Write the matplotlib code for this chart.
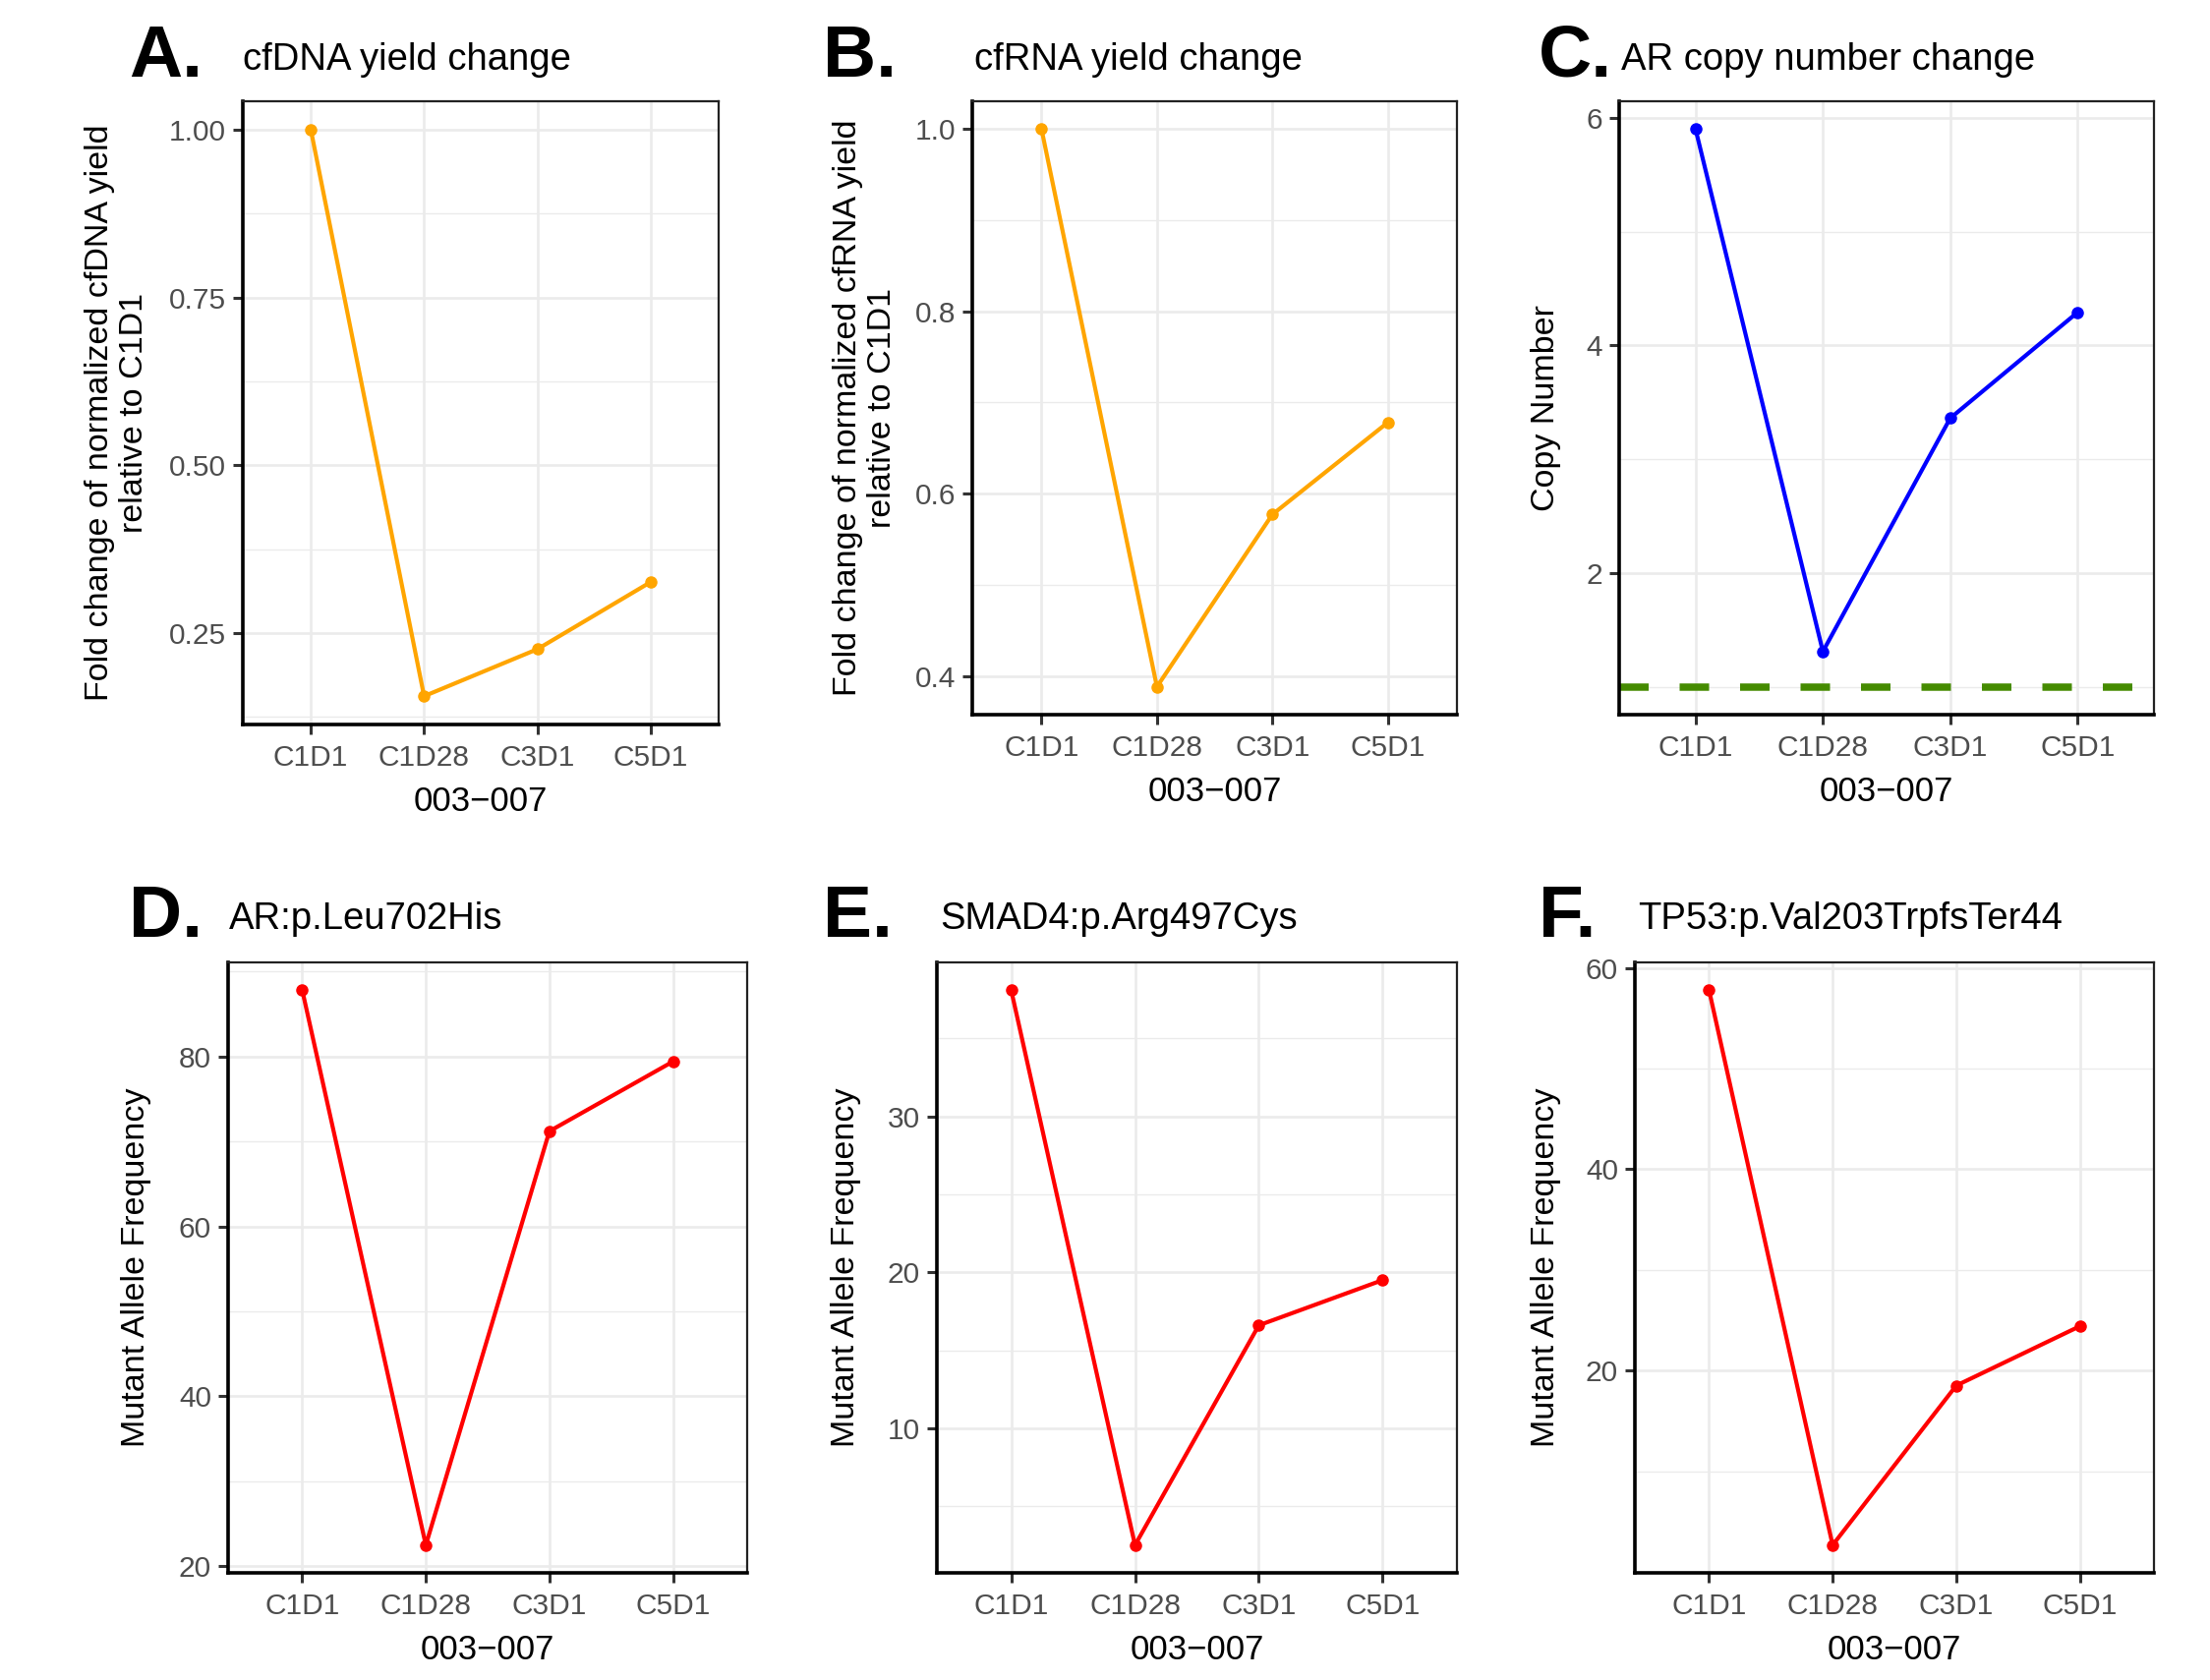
import numpy as np
import matplotlib
matplotlib.use('Agg')
import matplotlib.pyplot as plt
from matplotlib.ticker import FixedLocator, MultipleLocator

plt.rcParams['font.family'] = ['Liberation Sans', 'DejaVu Sans']

# timepoints on the x axis (patient 003-007)
visits = ['C1D1', 'C1D28', 'C3D1', 'C5D1']

# values
cfdna_fold = [1.0, 0.156, 0.226, 0.326]
cfrna_fold = [1.0, 0.388, 0.577, 0.678]
ar_copy_number = [5.90, 1.31, 3.36, 4.29]
ar_l702h_maf = [87.8, 22.5, 71.2, 79.4]
smad4_r497c_maf = [38.1, 2.5, 16.6, 19.5]
tp53_v203fs_maf = [57.8, 2.65, 18.5, 24.4]
cn_baseline = 1.0

# y ticks per panel
ticks_a = [0.25, 0.50, 0.75, 1.00]
ticks_b = [0.4, 0.6, 0.8, 1.0]
ticks_c = [2, 4, 6]
ticks_d = [20, 40, 60, 80]
ticks_e = [10, 20, 30]
ticks_f = [20, 40, 60]

W, H = 2248, 1709
fig = plt.figure(figsize=(W / 100, H / 100), dpi=100)

ORANGE = '#FFA500'
BLUE = '#0000FF'
RED = '#FF0000'
GREEN = '#458B00'
LW = 3.0
MS = 8


def px_axes(left, top, right, bottom):
    return fig.add_axes([left / W, 1 - bottom / H, (right - left) / W, (bottom - top) / H])


def style_panel(ax, values, ticks, fmt, minor_step, extra=None):
    x = np.arange(1, len(visits) + 1)
    allv = list(values) + ([extra] if extra is not None else [])
    lo, hi = min(allv), max(allv)
    pad = (hi - lo) * 0.05
    ax.set_ylim(lo - pad, hi + pad)
    ax.set_xlim(0.4, len(visits) + 0.6)
    ax.set_xticks(x)
    ax.set_xticklabels(visits)
    ax.yaxis.set_major_locator(FixedLocator(ticks))
    ax.set_yticklabels([fmt.format(t) for t in ticks])
    ax.yaxis.set_minor_locator(MultipleLocator(minor_step))
    ax.grid(True, which='major', color='#EBEBEB', lw=1.9, zorder=0)
    ax.grid(True, which='minor', axis='y', color='#EBEBEB', lw=1.0, zorder=0)
    ax.set_axisbelow(True)
    ax.tick_params(which='major', length=7.2, width=2.2, color='#333333',
                   labelsize=21.5, labelcolor='#4D4D4D', pad=5)
    ax.tick_params(axis='x', which='major', pad=7.5)
    ax.tick_params(which='minor', length=0)
    for s in ['left', 'bottom']:
        ax.spines[s].set_linewidth(2.6)
        ax.spines[s].set_color('black')
    for s in ['top', 'right']:
        ax.spines[s].set_linewidth(1.6)
        ax.spines[s].set_color('#222222')
    ax.set_xlabel('003\u2212007', fontsize=25, labelpad=10)
    return x


def titles(letter, lx, ly, title, tx, ty):
    fig.text(lx / W, 1 - ly / H, letter, fontsize=54, fontweight='bold',
             ha='left', va='baseline')
    fig.text(tx / W, 1 - ty / H, title, fontsize=27.5, ha='left', va='baseline')


def ylab(text, cx, top, bottom):
    fig.text(cx / W, 1 - (top + bottom) / 2 / H, text, fontsize=24.5, rotation=90,
             ha='center', va='center', multialignment='center', linespacing=1.15)


# A. cfDNA
axA = px_axes(247, 103, 731, 737)
x = style_panel(axA, cfdna_fold, ticks_a, '{:.2f}', 0.125)
axA.plot(x, cfdna_fold, color=ORANGE, lw=LW, marker='o', ms=MS, zorder=3)
titles('A.', 131, 78, 'cfDNA yield change', 247, 71)
ylab('Fold change of normalized cfDNA yield\nrelative to C1D1', 119, 103, 737)

# B. cfRNA
axB = px_axes(989, 103, 1482, 727)
x = style_panel(axB, cfrna_fold, ticks_b, '{:.1f}', 0.1)
axB.plot(x, cfrna_fold, color=ORANGE, lw=LW, marker='o', ms=MS, zorder=3)
titles('B.', 837, 78, 'cfRNA yield change', 991, 71)
ylab('Fold change of normalized cfRNA yield\nrelative to C1D1', 880, 103, 727)

# C. AR copy number
axC = px_axes(1647, 103, 2191, 727)
x = style_panel(axC, ar_copy_number, ticks_c, '{:d}', 1, extra=cn_baseline)
axC.axhline(cn_baseline, color=GREEN, lw=5.4, ls=(0, (4, 4.2)),
            solid_capstyle='butt', dash_capstyle='butt', zorder=2)
axC.plot(x, ar_copy_number, color=BLUE, lw=LW, marker='o', ms=MS, zorder=3)
titles('C.', 1565, 78, 'AR copy number change', 1649, 71)
ylab('Copy Number', 1573, 103, 727)

# D-F. mutant allele frequencies
axD = px_axes(232, 979, 760, 1600)
x = style_panel(axD, ar_l702h_maf, ticks_d, '{:d}', 10)
axD.plot(x, ar_l702h_maf, color=RED, lw=LW, marker='o', ms=MS, zorder=3)
titles('D.', 131, 953, 'AR:p.Leu702His', 233, 945)
ylab('Mutant Allele Frequency', 139, 979, 1600)

axE = px_axes(953, 979, 1482, 1600)
x = style_panel(axE, smad4_r497c_maf, ticks_e, '{:d}', 5)
axE.plot(x, smad4_r497c_maf, color=RED, lw=LW, marker='o', ms=MS, zorder=3)
titles('E.', 837, 953, 'SMAD4:p.Arg497Cys', 956, 945)
ylab('Mutant Allele Frequency', 860, 979, 1600)

axF = px_axes(1663, 979, 2191, 1600)
x = style_panel(axF, tp53_v203fs_maf, ticks_f, '{:d}', 10)
axF.plot(x, tp53_v203fs_maf, color=RED, lw=LW, marker='o', ms=MS, zorder=3)
titles('F.', 1565, 953, 'TP53:p.Val203TrpfsTer44', 1666, 945)
ylab('Mutant Allele Frequency', 1573, 979, 1600)

fig.savefig('out.png', dpi=100, facecolor='white')
